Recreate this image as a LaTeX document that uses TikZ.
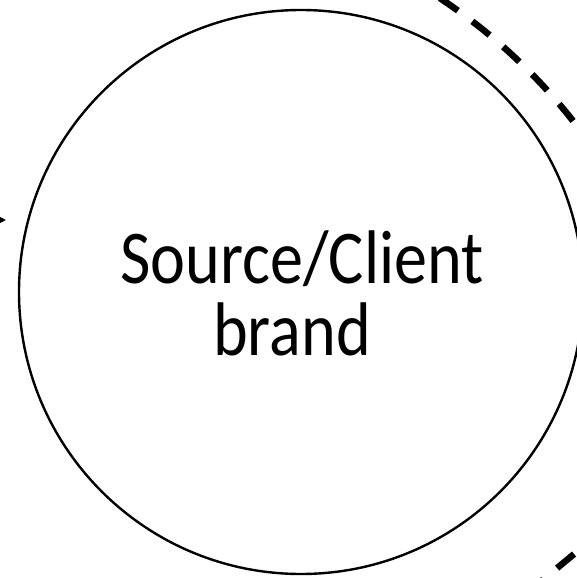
\documentclass[tikz,border=0pt]{standalone}
\usepackage{fontspec}
\usepackage{graphicx}
\setmainfont{Carlito}
\usetikzlibrary{arrows.meta}
\newcommand{\narrowtext}[1]{\scalebox{0.87}[1]{#1}}
\begin{document}
\begin{tikzpicture}[x=1pt,y=-1pt,
  ring/.style={circle,draw=black,line width=2.4pt,inner sep=0pt,minimum size=564pt},
  bigtext/.style={font=\fontsize{76}{78}\selectfont,anchor=base,inner sep=0pt},
  dashlink/.style={draw=black,line width=6.5pt,dash pattern=on 22pt off 18pt,line cap=butt},
  arrowlink/.style={draw=black,line width=2pt,-{Triangle[length=11pt,width=11pt]}}]
  \useasboundingbox (0,0) rectangle (577,578);
  \clip (0,0) rectangle (577,578);
  % main brand circle
  \node[ring] (brand) at (301,292) {};
  \node[bigtext] (line1) at (302,283) {\narrowtext{Source/Client}};
  \node[bigtext] (line2) at (292,355) {\narrowtext{brand}};
  % dashed arc passing by the upper right
  \coordinate (arccentre) at (127,471);
  \draw[dashlink] (arccentre) ++(-64.6:567) arc[start angle=-64.6,end angle=-25,radius=567];
  % dashed link at the lower right
  \coordinate (lowA) at (495.6,619.2);
  \coordinate (lowB) at (615,520);
  \draw[dashlink] (lowA) -- (lowB);
  % incoming arrow from the left
  \coordinate (inA) at (-60,220);
  \coordinate (inB) at (6,220);
  \draw[arrowlink] (inA) -- (inB);
\end{tikzpicture}
\end{document}
